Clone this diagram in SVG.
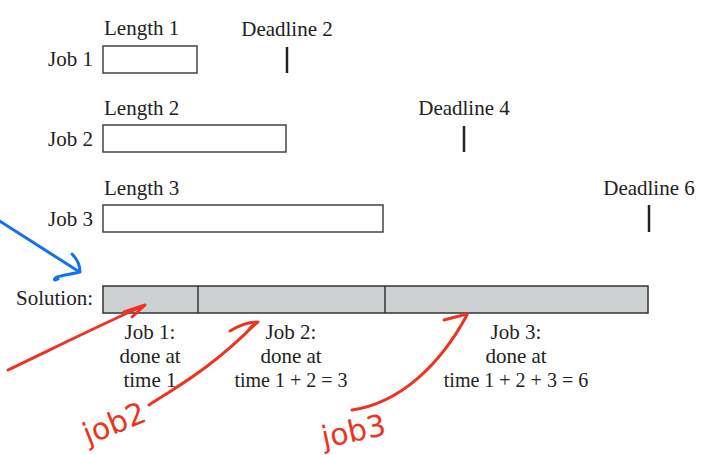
<svg xmlns="http://www.w3.org/2000/svg" width="703" height="455" viewBox="0 0 703 455">
  <style>
    text { font-family: "Liberation Serif", "Times New Roman", serif; font-size: 21px; fill: #222; }
    .lbl { text-anchor: end; }
    .mid { text-anchor: middle; }
    .sum { font-size: 20px; }
    .box { fill: #fff; stroke: #444; stroke-width: 1.5; }
    .sol { fill: #cdd1d1; stroke: #333; stroke-width: 1.5; }
    .tick { stroke: #222; stroke-width: 2.5; }
    .ink-blue { fill: none; stroke: #1471f0; stroke-width: 3; stroke-linecap: round; stroke-linejoin: round; }
    .ink-red { fill: none; stroke: #ee3322; stroke-width: 3; stroke-linecap: round; stroke-linejoin: round; }
    .hand { font-family: "DejaVu Sans", sans-serif; font-size: 30px; fill: #ee3322; }
  </style>

  <g id="job1">
    <text x="93" y="66" class="lbl">Job 1</text>
    <text x="104" y="35">Length 1</text>
    <rect x="103" y="46" width="94" height="27" class="box"/>
    <text x="287" y="36" class="mid">Deadline 2</text>
    <line x1="287" y1="47" x2="287" y2="73" class="tick"/>
  </g>

  <g id="job2">
    <text x="93" y="146" class="lbl">Job 2</text>
    <text x="104" y="115">Length 2</text>
    <rect x="103" y="125" width="183" height="27" class="box"/>
    <text x="464" y="115" class="mid">Deadline 4</text>
    <line x1="464" y1="126" x2="464" y2="152" class="tick"/>
  </g>

  <g id="job3">
    <text x="93" y="226" class="lbl">Job 3</text>
    <text x="104" y="195">Length 3</text>
    <rect x="103" y="205" width="280" height="27" class="box"/>
    <text x="649" y="195" class="mid">Deadline 6</text>
    <line x1="649" y1="205" x2="649" y2="232" class="tick"/>
  </g>

  <g id="solution">
    <text x="93" y="305" class="lbl">Solution:</text>
    <rect x="103" y="286" width="545" height="27" class="sol"/>
    <line x1="198" y1="286" x2="198" y2="313" stroke="#333" stroke-width="1.5"/>
    <line x1="385" y1="286" x2="385" y2="313" stroke="#333" stroke-width="1.5"/>
    <text x="150" y="339" class="mid">Job 1:</text>
    <text x="150" y="363" class="mid">done at</text>
    <text x="150" y="387" class="mid">time 1</text>
    <text x="291" y="339" class="mid">Job 2:</text>
    <text x="291" y="363" class="mid">done at</text>
    <text x="291" y="387" class="mid sum">time 1 + 2 = 3</text>
    <text x="516" y="339" class="mid">Job 3:</text>
    <text x="516" y="363" class="mid">done at</text>
    <text x="516" y="387" class="mid sum">time 1 + 2 + 3 = 6</text>
  </g>

  <g id="connectors">
    <!-- blue pointer toward the solution row -->
    <path class="ink-blue" d="M -2 220 L 78 271"/>
    <path class="ink-blue" d="M 72 254 C 76 258 80 265 80 272 C 72 274 64 275 57 277 C 53 279 54 281 58 279"/>
    <!-- red pointers to each finished job -->
    <path class="ink-red" d="M 8 370 C 50 350 100 325 143 306"/>
    <path class="ink-red" d="M 124 312 L 145 305 L 132 317"/>
    <path class="ink-red" d="M 149 405 C 180 385 215 365 256 323"/>
    <path class="ink-red" d="M 230 331 C 240 325 250 322 258 322 L 250 328"/>
    <path class="ink-red" d="M 352 410 C 400 403 440 365 467 315"/>
    <path class="ink-red" d="M 444 320 L 467 314"/>
  </g>

  <g id="notes">
    <text class="hand" x="88" y="445" transform="rotate(-22 88 445)">job2</text>
    <text class="hand" x="324" y="448" transform="rotate(-12 324 448)">job3</text>
  </g>
</svg>
